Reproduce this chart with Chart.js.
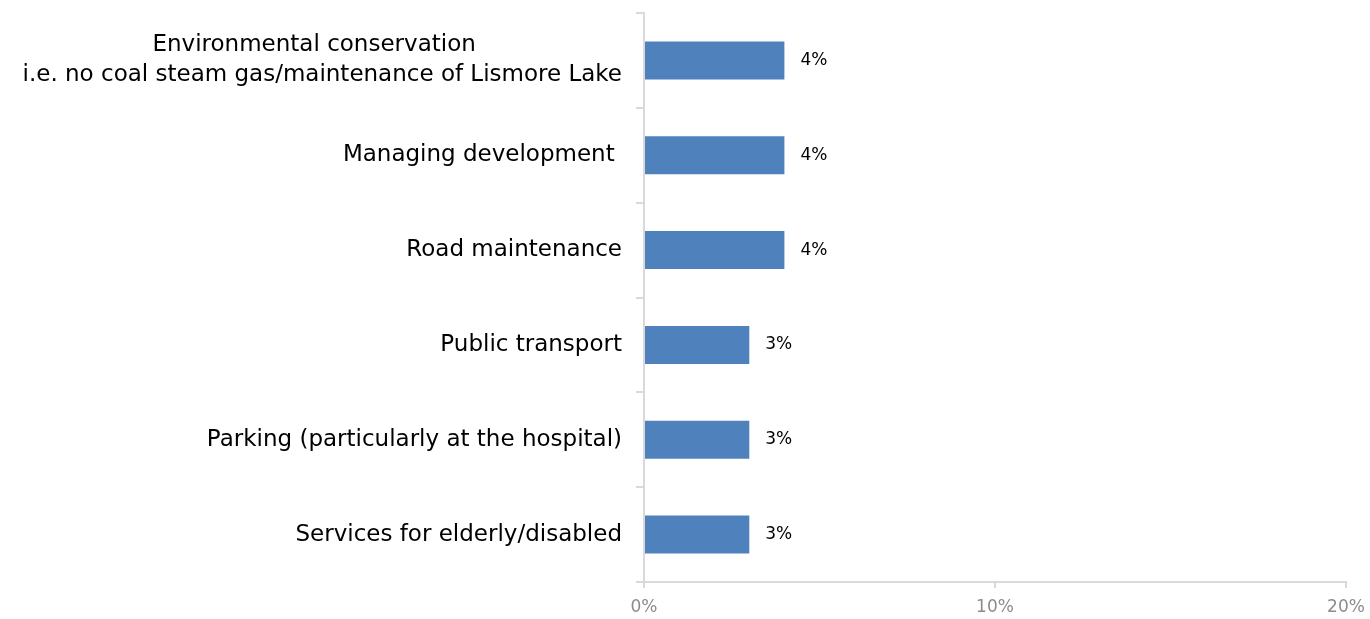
<!DOCTYPE html>
<html><head><meta charset="utf-8">
<script src="https://cdn.jsdelivr.net/npm/chart.js@4/dist/chart.umd.min.js"></script>
<style>html,body{margin:0;padding:0;background:#fff;}#wrap{width:1370px;height:619px;}</style>
</head><body><div id="wrap"><canvas id="c" width="1370" height="619"></canvas></div>
<script>
const categories = [
  ["Environmental conservation                    ", "i.e. no coal steam gas/maintenance of Lismore Lake"],
  "Managing development ",
  "Road maintenance",
  "Public transport",
  "Parking (particularly at the hospital)",
  "Services for elderly/disabled"
];
const values = [4, 4, 4, 3, 3, 3];
const xTicks = [0, 10, 20];

const FONT = "'DejaVu Sans', sans-serif";

const labelPlugin = {
  id: 'valLabels',
  afterDatasetsDraw(chart) {
    const ctx = chart.ctx;
    const meta = chart.getDatasetMeta(0);
    ctx.save();
    ctx.font = "17px " + FONT;
    ctx.fillStyle = "#000";
    ctx.textBaseline = "middle";
    ctx.textAlign = "left";
    meta.data.forEach((bar, i) => {
      ctx.fillText(values[i] + "%", bar.x + 16, bar.y);
    });
    ctx.restore();
  }
};

new Chart(document.getElementById('c'), {
  type: 'bar',
  data: {
    labels: categories,
    datasets: [{
      data: values,
      backgroundColor: '#4F81BD',
      borderWidth: 0,
      barPercentage: 0.8,
      categoryPercentage: 0.5
    }]
  },
  options: {
    indexAxis: 'y',
    responsive: false,
    animation: false,
    devicePixelRatio: 1,
    layout: { padding: { top: 13, right: 24, left: 0, bottom: 0 } },
    plugins: { legend: { display: false }, tooltip: { enabled: false } },
    scales: {
      x: {
        min: 0, max: 20,
        afterBuildTicks(scale) { scale.ticks = xTicks.map(v => ({ value: v })); },
        afterFit(scale) { scale.height = 37; scale.paddingLeft = 0; scale.paddingRight = 0; },
        ticks: {
          callback: v => v + '%',
          color: '#8c8c8c',
          font: { family: FONT, size: 17 },
          padding: 9,
          maxRotation: 0
        },
        grid: { drawOnChartArea: false, color: '#d9d9d9', tickLength: 6, lineWidth: 2 },
        border: { color: '#d9d9d9', width: 2 }
      },
      y: {
        afterFit(scale) { scale.width = 644; scale.paddingTop = 0; scale.paddingBottom = 0; },
        ticks: {
          color: '#000',
          font: { family: FONT, size: 23, lineHeight: 1.3 },
          padding: 14
        },
        grid: { drawOnChartArea: false, color: '#d9d9d9', tickLength: 8, lineWidth: 2, offset: true },
        border: { color: '#d9d9d9', width: 2 }
      }
    }
  },
  plugins: [labelPlugin]
});
</script>
</body></html>
